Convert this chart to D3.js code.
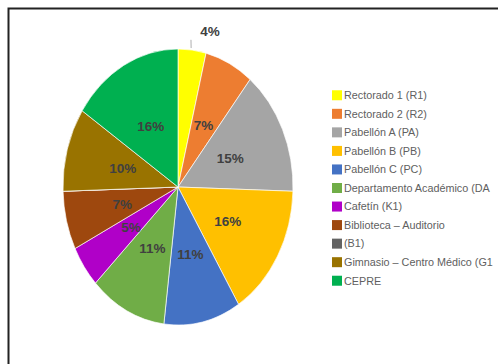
<!DOCTYPE html>
<html><head><meta charset="utf-8">
<script src="https://cdn.jsdelivr.net/npm/d3@7"></script>
<style>body{margin:0;background:#fff}svg{display:block}</style>
</head><body>
<script>
const categories = ["Rectorado 1 (R1)","Rectorado 2 (R2)","Pabellón A (PA)","Pabellón B (PB)","Pabellón C (PC)","Departamento Académico (DA","Cafetín (K1)","Biblioteca – Auditorio","(B1)","Gimnasio – Centro Médico (G1","CEPRE"];
const values = [4,7,15,16,11,11,5,7,0,10,16];
const labels = ["4%","7%","15%","16%","11%","11%","5%","7%","","10%","16%"];
const colors = ["#FFFF00","#ED7D31","#A5A5A5","#FFC000","#4472C4","#70AD47","#B000C8","#9E480E","#636363","#997300","#00B050"];

const W=498,H=364;
const svg=d3.select("body").append("svg").attr("width",W).attr("height",H);
svg.append("rect").attr("width",W).attr("height",H).attr("fill","#fff");
svg.append("path").attr("d",`M8.5,${H} V8.5 H${W}`).attr("fill","none").attr("stroke","#222").attr("stroke-width",2);

const cx=178, cy=187, rx=115, ry=138;
const pie=d3.pie().sort(null).value(d=>d)(values);
const arc=d3.arc().innerRadius(0).outerRadius(rx);
const g=svg.append("g").attr("transform",`translate(${cx},${cy}) scale(1,${ry/rx})`);
g.selectAll("path").data(pie).join("path")
  .attr("d",arc).attr("fill",(d,i)=>colors[i])
  .attr("stroke","#fff").attr("stroke-width",0.6);

function pos(d,k){const a=(d.startAngle+d.endAngle)/2;return [cx+Math.sin(a)*rx*k, cy-Math.cos(a)*ry*k];}
const lab=svg.append("g").attr("font-family","Liberation Sans, Arial, sans-serif").attr("font-weight","bold").attr("font-size",13.5).attr("fill","#404040").attr("text-anchor","middle");
pie.forEach((d,i)=>{
  if(!labels[i])return;
  let p;
  if(i===0){
    const e=pos(d,1.0), t=pos(d,1.06);
    svg.append("line").attr("x1",e[0]-1).attr("y1",e[1]-2).attr("x2",t[0]-2).attr("y2",t[1]-2).attr("stroke","#999").attr("stroke-width",0.8);
    p=[t[0]+17,t[1]-11];
  } else p=pos(d,0.5);
  lab.append("text").attr("x",p[0]).attr("y",p[1]).attr("dy","0.35em").text(labels[i]);
});

const lg=svg.append("g").attr("font-family","Liberation Sans, Arial, sans-serif").attr("font-size",10.8).attr("fill","#606060");
const ly=d3.scaleBand().domain(categories).range([86,290]);
categories.forEach((c,i)=>{
  const y=ly(c)+ly.bandwidth()/2;
  lg.append("rect").attr("x",332).attr("y",y-5).attr("width",10).attr("height",10).attr("fill",colors[i]);
  lg.append("text").attr("x",344).attr("y",y).attr("dy","0.35em").text(c);
});
</script>
</body></html>
